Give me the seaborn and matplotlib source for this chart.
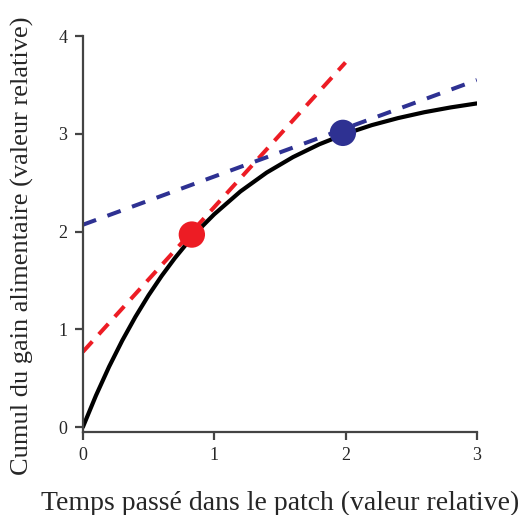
import numpy as np
import pandas as pd
import matplotlib
matplotlib.use("Agg")
import matplotlib.pyplot as plt
import seaborn as sns

# gain curve
temps = [0, 0.1, 0.2, 0.3, 0.4, 0.5, 0.6, 0.7, 0.8, 0.9, 1.0,
         1.2, 1.4, 1.6, 1.8, 2.0, 2.2, 2.4, 2.6, 2.8, 3.0]
gain = [0, 0.324, 0.619, 0.886, 1.128, 1.348, 1.547, 1.728, 1.892, 2.042, 2.177,
        2.411, 2.604, 2.762, 2.893, 3.0, 3.089, 3.161, 3.221, 3.27, 3.311]

# tangent lines (end points)
red_x = [0, 2.0]
red_y = [0.77, 3.73]
blue_x = [0, 3.0]
blue_y = [2.07, 3.55]

# optimum points
pts_x = [0.83, 1.98]
pts_y = [1.97, 3.01]
pts_col = ["#ED1C24", "#2E3192"]

sns.set_style("ticks")
plt.rcParams["font.family"] = ["Liberation Serif", "DejaVu Serif"]

fig = plt.figure(figsize=(5.31, 5.15), dpi=100)
ax = fig.add_axes([0.156, 0.161, 0.742, 0.769])

sns.lineplot(x=red_x, y=red_y, ax=ax, color="#ED1C24", lw=2.9,
             linestyle=(0, (3.5, 2.4)))
sns.lineplot(x=blue_x, y=blue_y, ax=ax, color="#2E3192", lw=2.9,
             linestyle=(0, (3.5, 3.0)))
sns.lineplot(x=temps, y=gain, ax=ax, color="black", lw=3)
df = pd.DataFrame({"x": pts_x, "y": pts_y, "c": pts_col})
sns.scatterplot(data=df, x="x", y="y", hue="c", palette=dict(zip(pts_col, pts_col)),
                s=360, edgecolor="none", legend=False, ax=ax, zorder=5)

ax.set_xlim(0, 3)
ax.set_ylim(-0.05, 4)
ax.set_xticks([0, 1, 2, 3])
ax.set_yticks([0, 1, 2, 3, 4])
sns.despine(ax=ax)
for s in ["left", "bottom"]:
    ax.spines[s].set_color("#444444")
    ax.spines[s].set_linewidth(1.6)
ax.tick_params(length=6, width=1.6, color="#444444", labelsize=13, pad=5)
ax.set_xlabel("Temps passé dans le patch (valeur relative)", fontsize=20, labelpad=19)
ax.set_ylabel("Cumul du gain alimentaire (valeur relative)", fontsize=19)
ax.yaxis.set_label_coords(-0.125, 0.47)

fig.savefig("out.png", dpi=100)
